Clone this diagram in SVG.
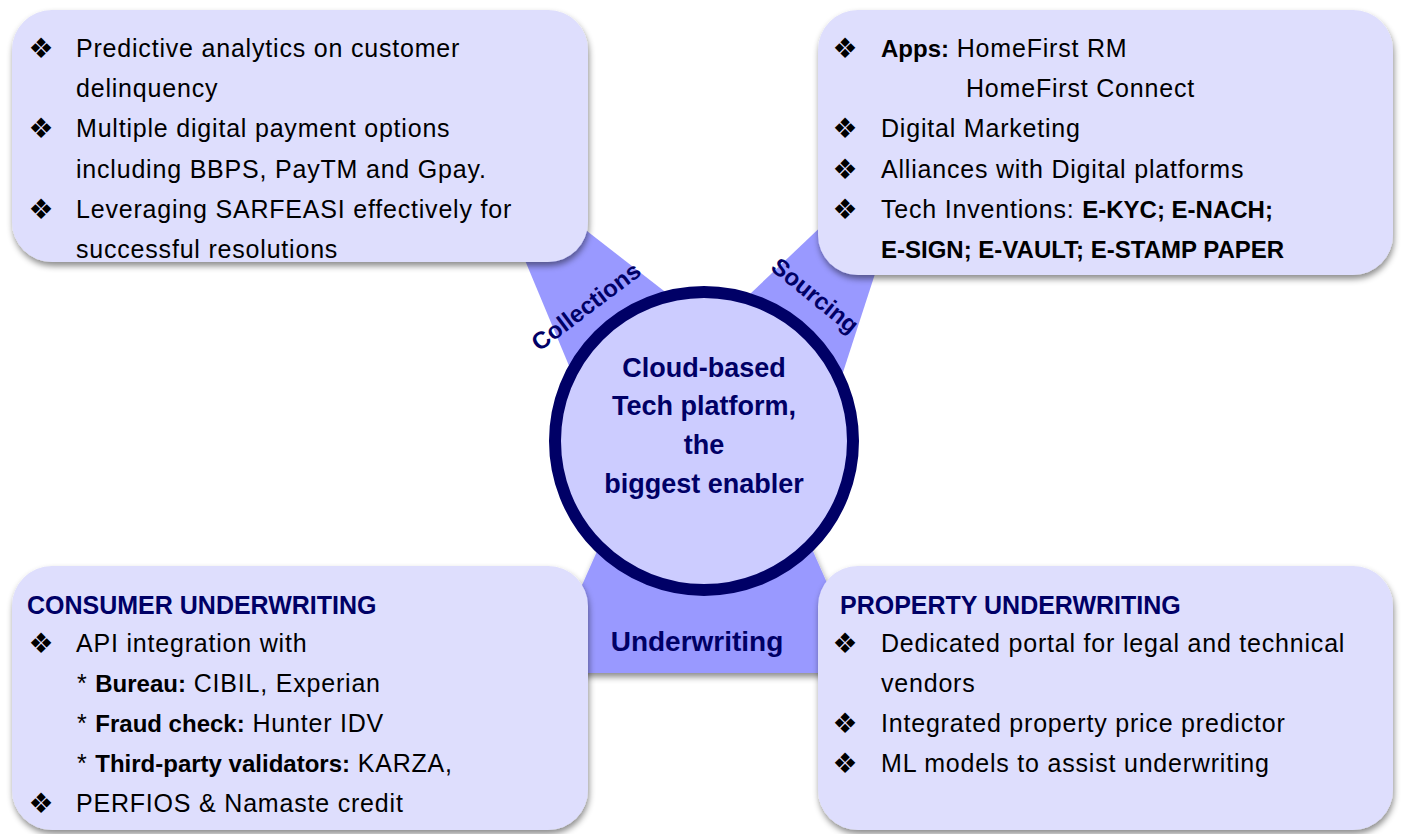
<svg xmlns="http://www.w3.org/2000/svg" width="1405" height="834" viewBox="0 0 1405 834">
<defs>
<filter id="sh" x="-10%" y="-10%" width="120%" height="125%">
<feDropShadow dx="1" dy="4" stdDeviation="3" flood-color="#000" flood-opacity="0.45"/>
</filter>
<style>
.box{fill:#dedefd;filter:url(#sh)}
.wedge{fill:#9999ff}
.t{font-family:"Liberation Sans",Arial,sans-serif;font-size:25px;fill:#000;letter-spacing:0.8px}
.b{font-weight:bold;letter-spacing:0;font-size:24px}
.bul{font-family:"DejaVu Sans",sans-serif;font-size:28px;fill:#000;text-anchor:middle}
.hd{font-family:"Liberation Sans",Arial,sans-serif;font-size:25px;font-weight:bold;fill:#000066}
.lbl{font-family:"Liberation Sans",Arial,sans-serif;font-weight:bold;fill:#000066;text-anchor:middle}
</style>
</defs>
<rect width="1405" height="834" fill="#fff"/>
<g id="connectors">
<polygon class="wedge" points="504,210 560,210 700,319 600,440"/>
<polygon class="wedge" points="850,199 899,200 821,440 710,332"/>
<polygon class="wedge" points="602,540 808,540 835,601 835,673 575,673 575,601" filter="url(#sh)"/>
<text class="lbl" font-size="24" transform="translate(591,313) rotate(-37)">Collections</text>
<text class="lbl" font-size="24" transform="translate(810,302) rotate(39)">Sourcing</text>
<text class="lbl" font-size="28" x="697" y="651">Underwriting</text>
</g>
<g id="collections">
<rect class="box" x="12" y="10" width="576" height="252" rx="40"/>
<text class="bul" x="41" y="58">❖</text>
<text class="t" x="76" y="57">Predictive analytics on customer</text>
<text class="t" x="76" y="97">delinquency</text>
<text class="bul" x="41" y="138">❖</text>
<text class="t" x="76" y="137">Multiple digital payment options</text>
<text class="t" x="76" y="178">including BBPS, PayTM and Gpay.</text>
<text class="bul" x="41" y="219">❖</text>
<text class="t" x="76" y="218">Leveraging SARFEASI effectively for</text>
<text class="t" x="76" y="258">successful resolutions</text>
</g>
<g id="sourcing">
<rect class="box" x="818" y="10" width="575" height="265" rx="40"/>
<text class="bul" x="845" y="58">❖</text>
<text class="t" x="881" y="57"><tspan class="b">Apps:</tspan> HomeFirst RM</text>
<text class="t" x="966" y="97">HomeFirst Connect</text>
<text class="bul" x="845" y="138">❖</text>
<text class="t" x="881" y="137">Digital Marketing</text>
<text class="bul" x="845" y="179">❖</text>
<text class="t" x="881" y="178">Alliances with Digital platforms</text>
<text class="bul" x="845" y="219">❖</text>
<text class="t" x="881" y="218">Tech Inventions: <tspan class="b">E-KYC; E-NACH;</tspan></text>
<text class="t b" x="881" y="258">E-SIGN; E-VAULT; E-STAMP PAPER</text>
</g>
<g id="consumer-underwriting">
<rect class="box" x="12" y="566" width="576" height="264" rx="40"/>
<text class="hd" x="27" y="614">CONSUMER UNDERWRITING</text>
<text class="bul" x="41" y="653">❖</text>
<text class="t" x="76" y="652">API integration with</text>
<text class="t" x="77" y="692">* <tspan class="b">Bureau:</tspan> CIBIL, Experian</text>
<text class="t" x="77" y="732">* <tspan class="b">Fraud check:</tspan> Hunter IDV</text>
<text class="t" x="77" y="772">* <tspan class="b">Third-party validators:</tspan> KARZA,</text>
<text class="bul" x="41" y="813">❖</text>
<text class="t" x="76" y="812">PERFIOS &amp; Namaste credit</text>
</g>
<g id="property-underwriting">
<rect class="box" x="818" y="566" width="575" height="264" rx="40"/>
<text class="hd" x="840" y="614">PROPERTY UNDERWRITING</text>
<text class="bul" x="845" y="653">❖</text>
<text class="t" x="881" y="652">Dedicated portal for legal and technical</text>
<text class="t" x="881" y="692">vendors</text>
<text class="bul" x="845" y="733">❖</text>
<text class="t" x="881" y="732">Integrated property price predictor</text>
<text class="bul" x="845" y="773">❖</text>
<text class="t" x="881" y="772">ML models to assist underwriting</text>
</g>
<g id="platform">
<circle cx="704" cy="441" r="149" fill="#ccccff" stroke="#000066" stroke-width="12"/>
<text class="lbl" font-size="27" x="704" y="377">Cloud-based</text>
<text class="lbl" font-size="27" x="704" y="415">Tech platform,</text>
<text class="lbl" font-size="27" x="704" y="454">the</text>
<text class="lbl" font-size="27" x="704" y="493">biggest enabler</text>
</g>
</svg>
